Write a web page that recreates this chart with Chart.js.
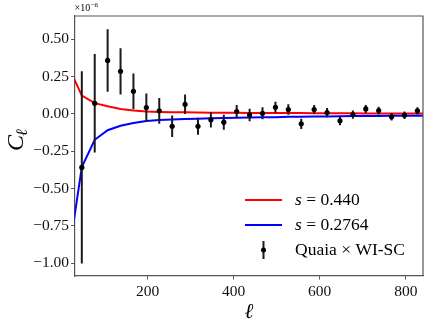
<!DOCTYPE html>
<html>
<head>
<meta charset="utf-8">
<script src="https://cdn.jsdelivr.net/npm/chart.js@4.4.1/dist/chart.umd.min.js"></script>
<style>
  html, body { margin: 0; padding: 0; background: #fff; }
  canvas { display: block; }
</style>
</head>
<body>
<canvas id="clChart" width="430" height="326"></canvas>
<script>
// multipoles of the bandpowers (bin centres)
const ell = [47, 77, 107, 137, 167, 197, 227, 257, 287, 317, 347, 377, 407, 437, 467,
             497, 527, 557, 587, 617, 647, 677, 707, 737, 767, 797, 827];
// measured C_ell (units of 1e-6)
const clData = [-0.359, 0.071, 0.358, 0.285, 0.151, 0.042, 0.020, -0.083, 0.064, -0.083,
                -0.040, -0.056, 0.015, -0.007, 0.004, 0.044, 0.029, -0.067, 0.029, 0.009,
                -0.047, -0.005, 0.033, 0.022, -0.020, -0.009, 0.020];
const clErr = [0.645, 0.33, 0.21, 0.155, 0.12, 0.095, 0.087, 0.072, 0.065, 0.057,
               0.052, 0.05, 0.045, 0.042, 0.04, 0.037, 0.035, 0.035, 0.03, 0.031,
               0.029, 0.028, 0.027, 0.026, 0.025, 0.025, 0.025];

// model curves
const ellModel = [17, 47, 77, 107, 137, 167, 197, 227, 257, 287, 317, 347, 377, 407, 437,
                  467, 497, 527, 557, 587, 617, 647, 677, 707, 737, 767, 797, 827, 857];
const modelRed = [0.31, 0.122, 0.072, 0.051, 0.033, 0.022, 0.016, 0.013, 0.011, 0.010,
                  0.009, 0.008, 0.007, 0.007, 0.006, 0.006, 0.005, 0.005, 0.005, 0.004,
                  0.004, 0.004, 0.004, 0.003, 0.003, 0.003, 0.003, 0.003, 0.003];
const modelBlue = [-0.94, -0.357, -0.174, -0.11, -0.08, -0.062, -0.048, -0.042, -0.038, -0.035,
                   -0.032, -0.030, -0.028, -0.026, -0.024, -0.023, -0.022, -0.020, -0.019, -0.018,
                   -0.017, -0.016, -0.015, -0.015, -0.014, -0.013, -0.013, -0.012, -0.012];

const xTicks = [200, 400, 600, 800];
const yTicks = [-1.0, -0.75, -0.5, -0.25, 0, 0.25, 0.5];
const legendLabels = ['0.440', '0.2764', 'Quaia \u00d7 WI-SC'];

const serif = "'Liberation Serif', 'DejaVu Serif', serif";
const frameColor = '#555';

const toXY = (xs, ys) => xs.map((x, i) => ({ x: x, y: ys[i] }));

// error bars, frame, titles and legend
const extras = {
    id: 'extras',
    beforeDatasetDraw(chart, args) {
        if (args.index !== 2) return;
        const ctx = chart.ctx;
        const xs = chart.scales.x, ys = chart.scales.y;
        ctx.save();
        ctx.beginPath();
        ctx.rect(chart.chartArea.left, chart.chartArea.top, chart.chartArea.width, chart.chartArea.height);
        ctx.clip();
        ctx.strokeStyle = '#1a1a1a';
        ctx.lineWidth = 2;
        ell.forEach((l, i) => {
            const px = xs.getPixelForValue(l);
            ctx.beginPath();
            ctx.moveTo(px, ys.getPixelForValue(clData[i] - clErr[i]));
            ctx.lineTo(px, ys.getPixelForValue(clData[i] + clErr[i]));
            ctx.stroke();
        });
        ctx.restore();
    },
    afterDraw(chart) {
        const ctx = chart.ctx;
        const a = chart.chartArea;
        ctx.save();
        // top and right spines
        ctx.strokeStyle = frameColor;
        ctx.lineWidth = 1.2;
        ctx.beginPath();
        ctx.moveTo(a.left, a.top);
        ctx.lineTo(a.right, a.top);
        ctx.lineTo(a.right, a.bottom);
        ctx.stroke();

        ctx.fillStyle = '#000';
        // offset text
        ctx.font = '10px ' + serif;
        ctx.textBaseline = 'alphabetic';
        ctx.textAlign = 'left';
        ctx.fillText('\u00d710', a.left, 11);
        const w10 = ctx.measureText('\u00d710').width;
        ctx.font = '7px ' + serif;
        ctx.fillText('\u22126', a.left + w10 + 0.5, 7);

        // x title
        ctx.font = 'italic 21px ' + serif;
        ctx.textAlign = 'center';
        ctx.fillText('\u2113', (a.left + a.right) / 2, 318);

        // y title (rotated)
        ctx.save();
        ctx.translate(23, 151);
        ctx.rotate(-Math.PI / 2);
        ctx.textAlign = 'left';
        ctx.font = 'italic 24px ' + serif;
        ctx.fillText('C', 0, 0);
        const wc = ctx.measureText('C').width;
        ctx.font = 'italic 16px ' + serif;
        ctx.fillText('\u2113', wc - 1, 4);
        ctx.restore();

        // legend
        const lx0 = 245, lx1 = 282, tx = 295;
        const rows = [200, 225, 250];
        const cols = ['#ff0000', '#0000ff'];
        ctx.lineWidth = 2;
        ctx.textAlign = 'left';
        ctx.textBaseline = 'middle';
        for (let i = 0; i < 2; i++) {
            ctx.strokeStyle = cols[i];
            ctx.beginPath();
            ctx.moveTo(lx0, rows[i]);
            ctx.lineTo(lx1, rows[i]);
            ctx.stroke();
            ctx.font = 'italic 17.5px ' + serif;
            ctx.fillText('s', tx, rows[i]);
            const ws = ctx.measureText('s').width;
            ctx.font = '17.5px ' + serif;
            ctx.fillText(' = ' + legendLabels[i], tx + ws, rows[i]);
        }
        const mx = (lx0 + lx1) / 2;
        ctx.strokeStyle = '#1a1a1a';
        ctx.beginPath();
        ctx.moveTo(mx, rows[2] - 9);
        ctx.lineTo(mx, rows[2] + 9);
        ctx.stroke();
        ctx.beginPath();
        ctx.arc(mx, rows[2], 2.5, 0, Math.PI * 2);
        ctx.fill();
        ctx.font = '17.5px ' + serif;
        ctx.fillText(legendLabels[2], tx, rows[2]);
        ctx.restore();
    }
};

new Chart(document.getElementById('clChart'), {
    type: 'scatter',
    data: {
        datasets: [
            {
                type: 'line',
                data: toXY(ellModel, modelRed),
                borderColor: '#ff0000',
                borderWidth: 2,
                pointRadius: 0,
                tension: 0,
                order: 2
            },
            {
                type: 'line',
                data: toXY(ellModel, modelBlue),
                borderColor: '#0000ff',
                borderWidth: 2,
                pointRadius: 0,
                tension: 0,
                order: 1
            },
            {
                data: toXY(ell, clData),
                backgroundColor: '#000',
                borderColor: '#000',
                pointRadius: 2.6,
                pointBorderWidth: 0,
                order: 0
            }
        ]
    },
    options: {
        responsive: false,
        animation: false,
        devicePixelRatio: 1,
        layout: { padding: { top: 16, right: 7, left: 0, bottom: 0 } },
        plugins: { legend: { display: false }, tooltip: { enabled: false } },
        scales: {
            x: {
                type: 'linear',
                min: 30,
                max: 840,
                afterFit: (s) => { s.height = 50; },
                afterBuildTicks: (s) => { s.ticks = xTicks.map(v => ({ value: v })); },
                grid: { drawOnChartArea: false, tickLength: 3.5, color: frameColor, tickWidth: 1 },
                border: { color: frameColor, width: 1.2 },
                ticks: {
                    color: '#111',
                    font: { family: serif, size: 15.5 },
                    padding: 3,
                    maxRotation: 0,
                    callback: (v) => String(v)
                }
            },
            y: {
                type: 'linear',
                min: -1.087,
                max: 0.656,
                afterFit: (s) => { s.width = 74.5; },
                afterBuildTicks: (s) => { s.ticks = yTicks.map(v => ({ value: v })); },
                grid: { drawOnChartArea: false, tickLength: 3.5, color: frameColor, tickWidth: 1 },
                border: { color: frameColor, width: 1.2 },
                ticks: {
                    color: '#111',
                    font: { family: serif, size: 15.5 },
                    padding: 2,
                    callback: (v) => {
                        const s = Math.abs(v).toFixed(2);
                        return v < -1e-9 ? '\u2212' + s : s;
                    }
                }
            }
        }
    },
    plugins: [extras]
});
</script>
</body>
</html>
